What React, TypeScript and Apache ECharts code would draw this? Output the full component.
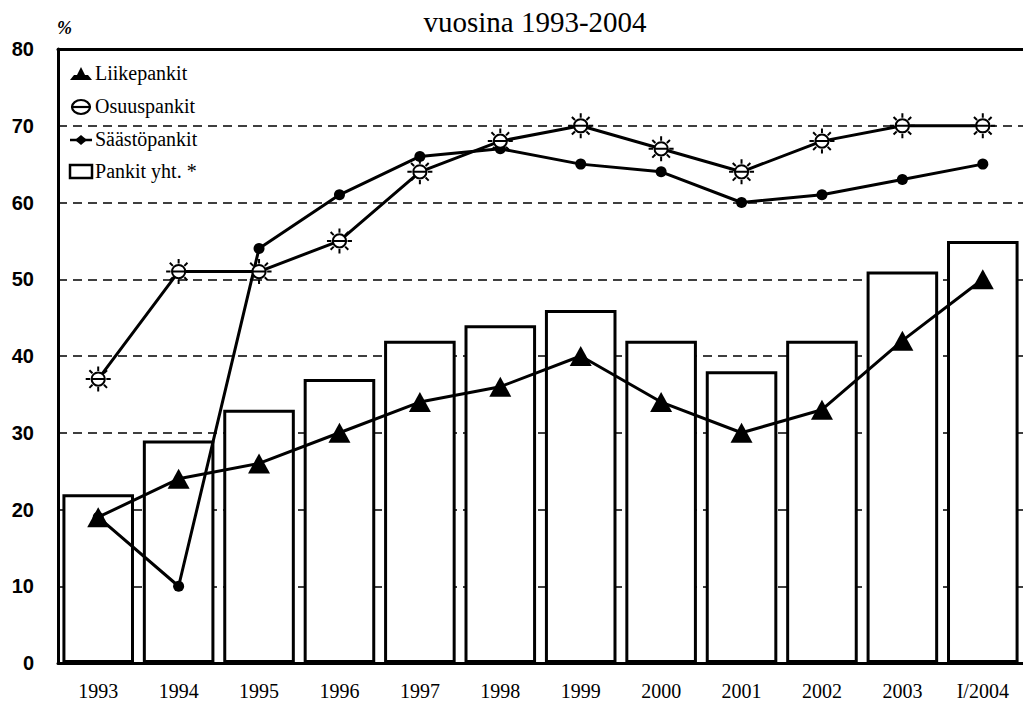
import React, { useEffect, useRef } from "react";
import * as echarts from "echarts";

const categories = ["1993", "1994", "1995", "1996", "1997", "1998", "1999", "2000", "2001", "2002", "2003", "I/2004"];
const pankitYht = [22, 29, 33, 37, 42, 44, 46, 42, 38, 42, 51, 55];
const liikepankit = [19, 24, 26, 30, 34, 36, 40, 34, 30, 33, 42, 50];
const osuuspankit = [37, 51, 51, 55, 64, 68, 70, 67, 64, 68, 70, 70];
const saastopankit = [19, 10, 54, 61, 66, 67, 65, 64, 60, 61, 63, 65];
const seriesNames = ["Liikepankit", "Osuuspankit", "Säästöpankit", "Pankit yht. *"];
const yTicks = { min: 0, max: 80, interval: 10 };
const titleText = "vuosina 1993-2004";
const unitText = "%";

const SERIF = "Liberation Serif";
const SANS = "Liberation Sans";
const rowY = [74, 107, 140, 172];

const sunPath =
  "path://M11,20 A9,9 0 1,0 29,20 A9,9 0 1,0 11,20 Z M11,20 L29,20 " +
  "M31,20 L37,20 M27.8,27.8 L32,32 M20,31 L20,37 M12.2,27.8 L8,32 " +
  "M9,20 L3,20 M12.2,12.2 L8,8 M20,9 L20,3 M27.8,12.2 L32,8";

function measure(text: string, font: string) {
  const c = document.createElement("canvas").getContext("2d")!;
  c.font = font;
  return c.measureText(text).width;
}

function legendIcons() {
  const ix = 70;
  const els: any[] = [];
  els.push({
    type: "polygon",
    shape: {
      points: [
        [ix, rowY[0] + 6], [ix + 4, rowY[0] + 1], [ix + 7, rowY[0] + 1], [ix + 11, rowY[0] - 7],
        [ix + 15, rowY[0] + 1], [ix + 18, rowY[0] + 1], [ix + 22, rowY[0] + 6],
      ],
    },
    style: { fill: "#000" },
  });
  els.push({ type: "ellipse", shape: { cx: ix + 11, cy: rowY[1], rx: 9, ry: 7 }, style: { fill: "#fff", stroke: "#000", lineWidth: 2.2 } });
  els.push({ type: "line", shape: { x1: ix + 1, y1: rowY[1], x2: ix + 21, y2: rowY[1] }, style: { stroke: "#000", lineWidth: 2.2 } });
  els.push({ type: "line", shape: { x1: ix, y1: rowY[2], x2: ix + 22, y2: rowY[2] }, style: { stroke: "#000", lineWidth: 2.5 } });
  els.push({
    type: "polygon",
    shape: { points: [[ix + 5, rowY[2]], [ix + 11, rowY[2] - 5], [ix + 17, rowY[2]], [ix + 11, rowY[2] + 5]] },
    style: { fill: "#000" },
  });
  els.push({ type: "rect", shape: { x: ix, y: rowY[3] - 7, width: 22, height: 13 }, style: { fill: "#fff", stroke: "#000", lineWidth: 2.5 } });
  return els.map((e) => ({ ...e, z: 100 }));
}

export default function App() {
  const ref = useRef<HTMLDivElement>(null);
  useEffect(() => {
    document.body.style.margin = "0";
    const chart = echarts.init(ref.current!, undefined, { renderer: "svg" });
    const legendFont = `20px "${SERIF}"`;
    const legendTitles = seriesNames.map((n, i) => {
      const w = measure(n, legendFont);
      return {
        text: n,
        left: 95 + w / 2,
        top: rowY[i] - 11,
        padding: 0,
        textAlign: "center",
        textStyle: { fontFamily: SERIF, fontSize: 20, fontWeight: "normal", color: "#000" },
      };
    });
    const pctW = measure(unitText, `italic bold 18px "${SERIF}"`);
    chart.setOption({
      animation: false,
      backgroundColor: "#fff",
      title: [
        {
          text: titleText,
          left: 530,
          top: 2,
          textAlign: "center",
          textStyle: { fontFamily: SERIF, fontSize: 29, fontWeight: "normal", color: "#000" },
        },
        {
          text: unitText,
          left: 57 + pctW / 2,
          top: 19,
          padding: 0,
          textAlign: "center",
          textStyle: { fontFamily: SERIF, fontSize: 18, fontStyle: "italic", fontWeight: "bold", color: "#000" },
        },
        ...legendTitles,
      ],
      graphic: legendIcons(),
      grid: { left: 58, top: 49, width: 968, height: 614, containLabel: false },
      xAxis: [
        {
          type: "category",
          data: categories,
          axisLine: { show: true, lineStyle: { color: "#000", width: 3 } },
          axisTick: { show: false },
          axisLabel: { fontFamily: SERIF, fontSize: 20, color: "#000", margin: 18 },
        },
        {
          type: "category",
          data: categories,
          position: "top",
          axisLine: { show: true, lineStyle: { color: "#000", width: 3 } },
          axisTick: { show: false },
          axisLabel: { show: false },
        },
      ],
      yAxis: {
        type: "value",
        min: yTicks.min,
        max: yTicks.max,
        interval: yTicks.interval,
        axisLine: { show: true, lineStyle: { color: "#000", width: 3 } },
        axisTick: { show: false },
        axisLabel: { fontFamily: SANS, fontWeight: "bold", fontSize: 20, color: "#000", margin: 24 },
        splitLine: { show: true, lineStyle: { color: "#000", width: 1.5, type: [9, 6] } },
      },
      series: [
        {
          name: seriesNames[3],
          type: "bar",
          data: pankitYht,
          barCategoryGap: "11%",
          itemStyle: { color: "#fff", borderColor: "#000", borderWidth: 3 },
          z: 1,
        },
        {
          name: seriesNames[2],
          type: "line",
          data: saastopankit,
          symbol: "circle",
          symbolSize: 11,
          lineStyle: { color: "#000", width: 3 },
          itemStyle: { color: "#000" },
          z: 3,
        },
        {
          name: seriesNames[1],
          type: "line",
          data: osuuspankit,
          symbol: sunPath,
          symbolSize: 25,
          lineStyle: { color: "#000", width: 3 },
          itemStyle: { color: "#fff", borderColor: "#000", borderWidth: 2 },
          z: 4,
        },
        {
          name: seriesNames[0],
          type: "line",
          data: liikepankit,
          symbol: "triangle",
          symbolSize: [22, 20],
          lineStyle: { color: "#000", width: 3 },
          itemStyle: { color: "#000" },
          z: 5,
        },
      ],
    });
    return () => chart.dispose();
  }, []);
  return <div ref={ref} style={{ position: "absolute", left: 0, top: 0, width: 1023, height: 707 }} />;
}
